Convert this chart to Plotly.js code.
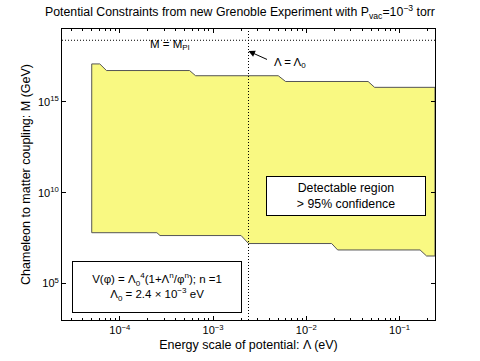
<!DOCTYPE html>
<html>
<head>
<meta charset="utf-8">
<script src="https://cdn.plot.ly/plotly-3.0.1.min.js"></script>
<style>
  html, body { margin: 0; padding: 0; background: #fff; }
  #plot { width: 480px; height: 361px; }
</style>
</head>
<body>
<div id="plot"></div>
<script>
// boundary of the detectable region
let topLambda = [5.0e-5, 6.1e-5, 7.2e-5, 5.6e-4, 6.5e-4, 5.0e-3, 6.0e-3, 0.046, 0.054, 0.24];
let topM      = [1.2e17, 1.2e17, 5.2e16, 5.2e16, 2.7e16, 2.7e16, 1.3e16, 1.3e16, 6.2e15, 6.2e15];
let botLambda = [5.0e-5, 2.5e-4, 2.7e-4, 2.0e-3, 2.4e-3, 0.0187, 0.0217, 0.166, 0.195, 0.24];
let botM      = [6.3e7, 6.3e7, 4.4e7, 4.4e7, 1.6e7, 1.6e7, 7.1e6, 7.1e6, 3.3e6, 3.3e6];

let lambda0 = 2.4e-3;      // eV
let mPl = 2.4e18;          // GeV
let lambdaRange = [2.4e-5, 0.24];
let mRange = [1e3, 1e19];

let xTickVals = [1e-4, 1e-3, 1e-2, 1e-1];
let xTickText = ["10<sup>\u22124</sup>", "10<sup>\u22123</sup>", "10<sup>\u22122</sup>", "10<sup>\u22121</sup>"];
let yTickVals = [1e5, 1e10, 1e15];
let yTickText = ["10<sup>5</sup>", "10<sup>10</sup>", "10<sup>15</sup>"];

let minorX = [];
for (let e = -5; e <= -1; e++) {
	for (let m = 2; m <= 9; m++) {
		let v = m * Math.pow(10, e);
		if (v > lambdaRange[0] && v < lambdaRange[1]) minorX.push(v);
	}
}

// closed polygon: top edge left->right, bottom edge right->left
let polyX = topLambda.concat(botLambda.slice().reverse());
let polyY = topM.concat(botM.slice().reverse());
polyX.push(topLambda[0]);
polyY.push(topM[0]);

let traces = [
	{
		x: polyX, y: polyY, mode: "lines", fill: "toself",
		fillcolor: "#f9f982", line: {color: "#555", width: 1}, hoverinfo: "skip"
	},
	{
		x: lambdaRange, y: [mPl, mPl], mode: "lines",
		line: {color: "#000", width: 1, dash: "1px,2px"}
	},
	{
		x: [lambda0, lambda0], y: mRange, mode: "lines",
		line: {color: "#000", width: 1, dash: "1px,2px"}
	}
];

let font = {family: "Liberation Sans, Arial, sans-serif", color: "#000"};
let axisBase = {
	type: "log",
	showline: true, linecolor: "#000", linewidth: 1, mirror: "ticks",
	ticks: "inside", ticklen: 4, tickcolor: "#000", tickwidth: 1,
	showgrid: false, zeroline: false,
	tickmode: "array",
	tickfont: Object.assign({size: 11}, font)
};

function note(x, y, text, extra) {
	return Object.assign({
		xref: "paper", yref: "paper", x: x, y: y, xanchor: "center", yanchor: "middle",
		text: text, showarrow: false, font: Object.assign({size: 11.5}, font)
	}, extra || {});
}

let layout = {
	width: 480, height: 361,
	margin: {l: 62, r: 45, t: 29, b: 41},
	paper_bgcolor: "#fff", plot_bgcolor: "#fff",
	showlegend: false,
	font: font,
	title: {
		text: "Potential Constraints from new Grenoble Experiment with P<sub>vac</sub>=10<sup>\u22123</sup> torr",
		font: Object.assign({size: 12.3}, font),
		x: 0.5, xanchor: "center", y: 0.967, yanchor: "middle"
	},
	xaxis: Object.assign({}, axisBase, {
		range: [Math.log10(lambdaRange[0]), Math.log10(lambdaRange[1])],
		tickvals: xTickVals, ticktext: xTickText,
		minor: {tickmode: "array", tickvals: minorX, ticks: "inside", ticklen: 2, tickcolor: "#000", showgrid: false},
		title: {text: "Energy scale of potential: \u039b (eV)", font: Object.assign({size: 12.5}, font), standoff: 5}
	}),
	yaxis: Object.assign({}, axisBase, {
		range: [Math.log10(mRange[0]), Math.log10(mRange[1])],
		tickvals: yTickVals, ticktext: yTickText,
		title: {text: "Chameleon to matter coupling: M (GeV)", font: Object.assign({size: 12.5}, font), standoff: 4}
	}),
	annotations: [
		note(0.29, 0.945, "M = M<sub>Pl</sub>"),
		note(0.611, 0.883, "\u039b = \u039b<sub>0</sub>"),
		{
			xref: "paper", yref: "paper", x: 0.5, y: 0.924,
			text: "", showarrow: true, arrowhead: 2, arrowsize: 1.3, arrowwidth: 1,
			arrowcolor: "#000", ax: 20, ay: 9
		},
		note(0.7606, 0.4265, "Detectable region<br>> 95% confidence", {
			bgcolor: "#fff", bordercolor: "#000", borderwidth: 1,
			width: 156, height: 36, borderpad: 1,
			font: Object.assign({size: 12.3}, font)
		}),
		note(0.254, 0.115, "V(\u03c6) = \u039b<sub>0</sub><sup>4</sup>(1+\u039b<sup>n</sup>/\u03c6<sup>n</sup>); n =1<br>\u039b<sub>0</sub> = 2.4 \u00d7 10<sup>\u22123</sup> eV", {
			bgcolor: "#fff", bordercolor: "#000", borderwidth: 1,
			width: 166, height: 48, borderpad: 1
		})
	]
};

Plotly.newPlot("plot", traces, layout, {staticPlot: true, displayModeBar: false});
</script>
</body>
</html>
